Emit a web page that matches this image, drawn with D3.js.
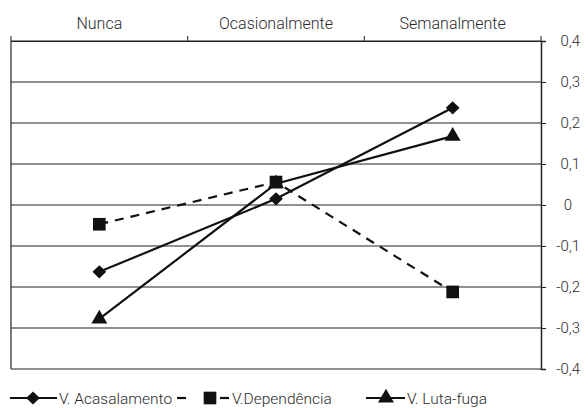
<!DOCTYPE html>
<html><head><meta charset="utf-8">
<script src="https://cdn.jsdelivr.net/npm/d3@7"></script>
<style>
body{margin:0;background:#fff;}
text{font-family:Roboto,"Noto Sans",sans-serif;font-weight:300;fill:#2b2b2b;}
</style></head>
<body><svg id="c" width="588" height="408"></svg>
<script>
const categories = ["Nunca","Ocasionalmente","Semanalmente"];
const acasalamento = [-0.163, 0.015, 0.237];
const dependencia = [-0.047, 0.056, -0.212];
const lutaFuga = [-0.278, 0.052, 0.168];
const seriesNames = ["V. Acasalamento","V.Dependência","V. Luta-fuga"];
const yTicks = [0.4,0.3,0.2,0.1,0,-0.1,-0.2,-0.3,-0.4];

const svg = d3.select("#c");
const L = 11, R = 541, T = 41, B = 369;
const x = d3.scaleBand().domain(categories).range([L, R]);
const y = d3.scaleLinear().domain([-0.4, 0.4]).range([B, T]);

// gridlines
svg.append("g").selectAll("line").data(yTicks).join("line")
  .attr("x1", L).attr("x2", R)
  .attr("y1", d => y(d)).attr("y2", d => y(d))
  .attr("stroke", "#222").attr("stroke-width", 1.2);

// left border
svg.append("line").attr("x1", L).attr("x2", L).attr("y1", T).attr("y2", B)
  .attr("stroke", "#222").attr("stroke-width", 1.2);

// right axis
const fmt = d => d === 0 ? "0" : d3.format(".1f")(d).replace(".", ",").replace("−","-");
const ra = svg.append("g").attr("transform", `translate(${R},0)`)
  .call(d3.axisRight(y).tickValues(yTicks).tickSize(5).tickFormat(fmt));
ra.select(".domain").attr("stroke", "#222").attr("stroke-width", 1.5);
ra.selectAll(".tick line").attr("stroke", "#222");
ra.selectAll(".tick text").attr("font-size", 15).attr("font-family", "Roboto")
  .attr("font-weight", 300).attr("fill", "#2b2b2b")
  .attr("text-anchor", "end").attr("x", d => d === 0 ? 31 : 39);

// top category axis
const ta = svg.append("g").attr("transform", `translate(0,${T})`)
  .call(d3.axisTop(x).tickSize(0).tickPadding(12));
ta.select(".domain").attr("stroke", "#222").attr("stroke-width", 1.2);
ta.selectAll(".tick text").attr("font-size", 16).attr("font-family", "Roboto")
  .attr("font-weight", 300).attr("fill", "#2b2b2b");
const bounds = [L].concat(categories.map(c => x(c) + x.bandwidth()));
svg.append("g").selectAll("line").data(bounds).join("line")
  .attr("x1", d => d).attr("x2", d => d).attr("y1", T - 5).attr("y2", T)
  .attr("stroke", "#222").attr("stroke-width", 1);

const cx = c => x(c) + x.bandwidth() / 2;
const line = d3.line().x((d, i) => cx(categories[i])).y(d => y(d));

const sym = {
  diamond: d3.symbol().type(d3.symbolDiamond2).size(110),
  square: d3.symbol().type(d3.symbolSquare).size(160),
  triangle: d3.symbol().type(d3.symbolTriangle).size(110)
};
const series = [
  {name: seriesNames[0], values: acasalamento, dash: null, shape: "diamond"},
  {name: seriesNames[1], values: dependencia, dash: "9,7", shape: "square"},
  {name: seriesNames[2], values: lutaFuga, dash: null, shape: "triangle"}
];
function marker(g, shape, px, py) {
  if (shape === "triangle") {
    g.append("path").attr("d", sym.triangle()).attr("transform", `translate(${px},${py})`).attr("fill", "#111");
  } else if (shape === "diamond") {
    g.append("path").attr("d", sym.diamond()).attr("transform", `translate(${px},${py}) scale(1.05,1)`).attr("fill", "#111");
  } else {
    g.append("path").attr("d", sym.square()).attr("transform", `translate(${px},${py})`).attr("fill", "#111");
  }
}
series.forEach(s => {
  const g = svg.append("g");
  g.append("path").datum(s.values).attr("d", line).attr("fill", "none")
    .attr("stroke", "#111").attr("stroke-width", 2.2)
    .attr("stroke-dasharray", s.dash);
  s.values.forEach((v, i) => marker(g, s.shape, cx(categories[i]), y(v)));
});

// legend
const ly = 398;
const lg = svg.append("g");
const legendItems = [
  {segs: [[10, 57]], m: 33, tx: 59, s: series[0]},
  {segs: [[177, 186], [220, 229]], m: 210, tx: 232, s: series[1]},
  {segs: [[366, 405]], m: 386, tx: 407, s: series[2]}
];
legendItems.forEach(it => {
  it.segs.forEach(sg => {
    lg.append("line").attr("x1", sg[0]).attr("x2", sg[1]).attr("y1", ly).attr("y2", ly)
      .attr("stroke", "#111").attr("stroke-width", 2.2);
  });
  marker(lg, it.s.shape, it.m, ly);
  lg.append("text").attr("x", it.tx).attr("y", ly).attr("dy", "0.36em")
    .attr("font-size", 15.5).text(it.s.name);
});
</script></body></html>
